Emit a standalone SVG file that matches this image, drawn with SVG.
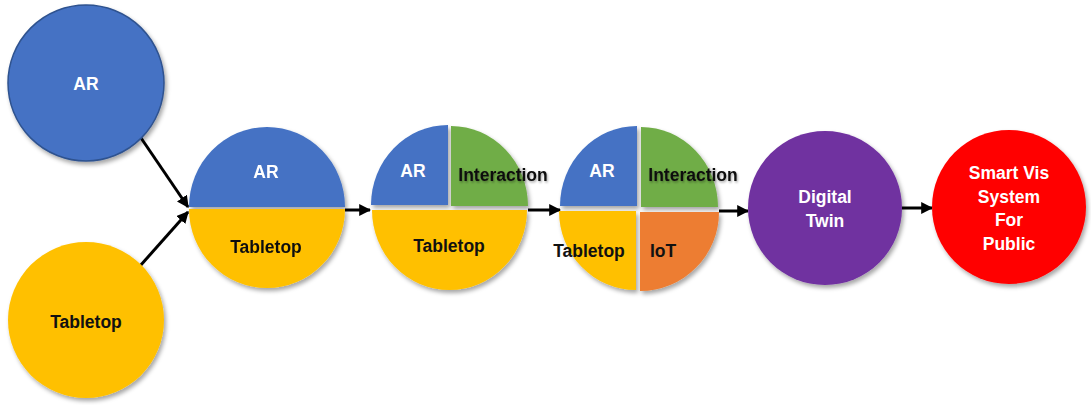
<svg xmlns="http://www.w3.org/2000/svg" width="1091" height="405" viewBox="0 0 1091 405">
  <defs>
    <filter id="shadow" x="-20%" y="-20%" width="140%" height="140%">
      <feDropShadow dx="2" dy="3" stdDeviation="2" flood-color="#000" flood-opacity="0.35"/>
    </filter>
    <filter id="txtshadow" x="-10%" y="-30%" width="120%" height="160%">
      <feDropShadow dx="1" dy="1.5" stdDeviation="1" flood-color="#000" flood-opacity="0.35"/>
    </filter>
    <marker id="arrow" viewBox="0 0 10 10" refX="9" refY="5" markerWidth="4" markerHeight="4" orient="auto" markerUnits="strokeWidth">
      <path d="M0,0 L10,5 L0,10 Z" fill="#000"/>
    </marker>
  </defs>
  <style>
    .blue { fill: #4472C4; }
    .yellow { fill: #FFC000; }
    .green { fill: #70AD47; }
    .orange { fill: #ED7D31; }
    .purple { fill: #7030A0; }
    .red { fill: #FF0000; }
    .lbl { font-family: "Liberation Sans", Arial, sans-serif; font-weight: bold; font-size: 17.5px; text-anchor: middle; dominant-baseline: central; }
    .w { fill: #FFFFFF; }
    .k { fill: #111111; }
    .conn { stroke: #000; stroke-width: 3; fill: none; marker-end: url(#arrow); }
  </style>

  <rect width="1091" height="405" fill="#FFFFFF"/>

  <!-- connectors -->
  <g id="connectors">
    <line class="conn" x1="139" y1="135" x2="188" y2="207"/>
    <line class="conn" x1="140" y1="266" x2="188" y2="212"/>
    <line class="conn" x1="345" y1="210" x2="370" y2="210"/>
    <line class="conn" x1="528" y1="210" x2="560" y2="210"/>
    <line class="conn" x1="719" y1="211" x2="748" y2="211"/>
    <line class="conn" x1="902" y1="208" x2="932" y2="208"/>
  </g>

  <!-- source: AR -->
  <g id="ar-source">
    <circle class="blue" cx="86" cy="83" r="78" stroke="#2F528F" stroke-width="1.5" filter="url(#shadow)"/>
    <text class="lbl w" x="86" y="84">AR</text>
  </g>

  <!-- source: Tabletop -->
  <g id="tabletop-source">
    <circle class="yellow" cx="86" cy="320" r="78" filter="url(#shadow)"/>
    <text class="lbl k" x="86" y="322">Tabletop</text>
  </g>

  <!-- AR + Tabletop -->
  <g id="ar-tabletop" filter="url(#shadow)">
    <path class="blue" d="M189,207 A78,80 0 0 1 345,207 Z"/>
    <path class="yellow" d="M189,209 L345,209 A78,79 0 0 1 189,209 Z"/>
    <text class="lbl w" x="266" y="172">AR</text>
    <text class="lbl k" x="266" y="247">Tabletop</text>
  </g>

  <!-- AR + Interaction + Tabletop -->
  <g id="ar-interaction-tabletop">
    <g filter="url(#shadow)">
      <path class="blue" d="M448,205 L371,205 A77,80 0 0 1 448,125 Z"/>
      <path class="green" d="M451,206 L451,126 A77,80 0 0 1 528,206 Z"/>
      <path class="yellow" d="M372,210 L527,210 A77.5,80 0 0 1 372,210 Z"/>
    </g>
    <text class="lbl w" x="413" y="171">AR</text>
    <text class="lbl k" x="503" y="175" filter="url(#txtshadow)">Interaction</text>
    <text class="lbl k" x="449" y="246">Tabletop</text>
  </g>

  <!-- AR + Interaction + Tabletop + IoT -->
  <g id="ar-interaction-tabletop-iot">
    <g filter="url(#shadow)">
      <path class="blue" d="M637,206 L560,206 A77,80 0 0 1 637,126 Z"/>
      <path class="green" d="M641,207 L641,127 A77,80 0 0 1 718,207 Z"/>
      <path class="yellow" d="M636,211 L636,290 A77,79 0 0 1 559,211 Z"/>
      <path class="orange" d="M640,212 L719,212 A79,79 0 0 1 640,291 Z"/>
    </g>
    <text class="lbl w" x="602" y="171">AR</text>
    <text class="lbl k" x="693" y="175" filter="url(#txtshadow)">Interaction</text>
    <text class="lbl k" x="589" y="251">Tabletop</text>
    <text class="lbl k" x="663" y="251">IoT</text>
  </g>

  <!-- Digital Twin -->
  <g id="digital-twin">
    <circle class="purple" cx="825" cy="208" r="77" filter="url(#shadow)"/>
    <text class="lbl w" x="825" y="197">Digital</text>
    <text class="lbl w" x="825" y="221">Twin</text>
  </g>

  <!-- Smart Vis System For Public -->
  <g id="smart-vis">
    <circle class="red" cx="1009" cy="207" r="77" filter="url(#shadow)"/>
    <text class="lbl w" x="1009" y="173">Smart Vis</text>
    <text class="lbl w" x="1009" y="197">System</text>
    <text class="lbl w" x="1009" y="220">For</text>
    <text class="lbl w" x="1009" y="244">Public</text>
  </g>
</svg>
